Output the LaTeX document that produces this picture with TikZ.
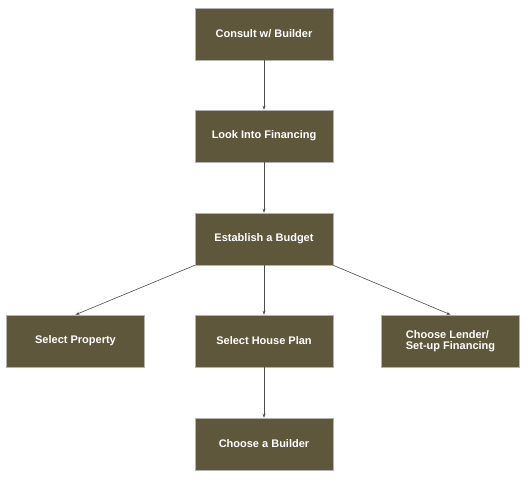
\documentclass[tikz,border=0pt]{standalone}
\usepackage{fontspec}
\setmainfont{Liberation Sans}
\usetikzlibrary{arrows.meta}
\begin{document}
\begin{tikzpicture}[x=1pt,y=-1pt,
  stepbox/.style={draw=gray!60, fill=olivebox, text=white, font=\bfseries\fontsize{11}{11.5}\selectfont,
    minimum width=138pt, minimum height=52pt, inner sep=2pt, align=center, line width=0.6pt},
  flow/.style={draw=black!70, line width=0.6pt, -{Stealth[length=4pt,width=3pt]}}]
  \definecolor{olivebox}{HTML}{5F573B}
  \useasboundingbox (0,0) rectangle (530,482);
  % --- the main column
  \node[stepbox] (consult) at (264,34)  {Consult w/ Builder};
  \node[stepbox] (finance) at (264,136) {Look Into Financing};
  \node[stepbox] (budget)  at (264,239) {Establish a Budget};
  % --- the row of three choices after the budget
  \node[stepbox] (property) at (75.5,341) {Select Property};
  \node[stepbox] (plan)     at (264,341)  {Select House Plan};
  \node[stepbox, align=left] (lender) at (450.5,341) {Choose Lender/\\Set-up Financing};
  \node[stepbox] (builder)  at (264,444) {Choose a Builder};
  % --- connectors
  \draw[flow] (consult) -- (finance);
  \draw[flow] (finance) -- (budget);
  \draw[flow] (budget.south west) -- (property.north);
  \draw[flow] (budget) -- (plan);
  \draw[flow] (budget.south east) -- (lender.north);
  \draw[flow] (plan) -- (builder);
\end{tikzpicture}
\end{document}
